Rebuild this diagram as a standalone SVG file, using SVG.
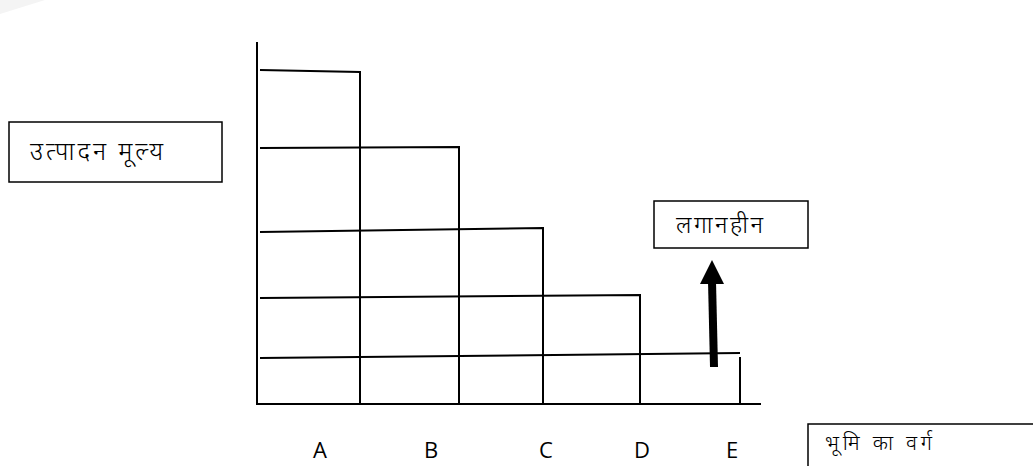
<svg xmlns="http://www.w3.org/2000/svg" width="1033" height="466" viewBox="0 0 1033 466">
<style>
.ln{stroke:#000;stroke-width:2;fill:none}
.box{stroke:#000;stroke-width:1.5;fill:#fff}
.hi{font-family:"Noto Sans","Noto Sans Devanagari","Lohit Devanagari",sans-serif;fill:#000;font-weight:300}
.lat{font-family:"Open Sans","Liberation Sans",sans-serif;font-size:22px;fill:#000;text-anchor:middle}
</style>
<rect width="1033" height="466" fill="#fff"/>
<polygon points="0,0 45,0 0,14" fill="#f4f4f4"/>
<g id="connectors">
<line class="ln" x1="257" y1="42" x2="257" y2="405"/>
<line class="ln" x1="256" y1="404" x2="761" y2="404"/>
<polyline class="ln" points="260,70 360,72 360,404"/>
<polyline class="ln" points="260,148 459,147 459,404"/>
<polyline class="ln" points="260,232 543,228 543,404"/>
<polyline class="ln" points="260,298 640,295 640,404"/>
<line class="ln" x1="260" y1="358" x2="740" y2="353"/>
<line class="ln" x1="740" y1="357" x2="740" y2="404"/>
<line stroke="#000" stroke-width="8" x1="714" y1="367" x2="712" y2="281"/>
<polygon points="712,260 700,284 724,284" fill="#000"/>
</g>
<g id="node-utpadan">
<rect class="box" x="9" y="122" width="213" height="60"/>
<text class="hi" x="30" y="160" font-size="25" textLength="133" lengthAdjust="spacing">उत्पादन मूल्य</text>
</g>
<g id="node-laganheen">
<rect class="box" x="654" y="201" width="154" height="47"/>
<text class="hi" x="676" y="233" font-size="24" textLength="87" lengthAdjust="spacing">लगानहीन</text>
</g>
<g id="node-bhumi">
<rect class="box" x="808" y="424" width="240" height="60"/>
<text class="hi" x="825" y="450" font-size="21" textLength="107" lengthAdjust="spacing">भूमि का वर्ग</text>
</g>
<g id="labels">
<text class="lat" x="320" y="458">A</text>
<text class="lat" x="431" y="458">B</text>
<text class="lat" x="546" y="458">C</text>
<text class="lat" x="642" y="458">D</text>
<text class="lat" x="732" y="458">E</text>
</g>
</svg>
